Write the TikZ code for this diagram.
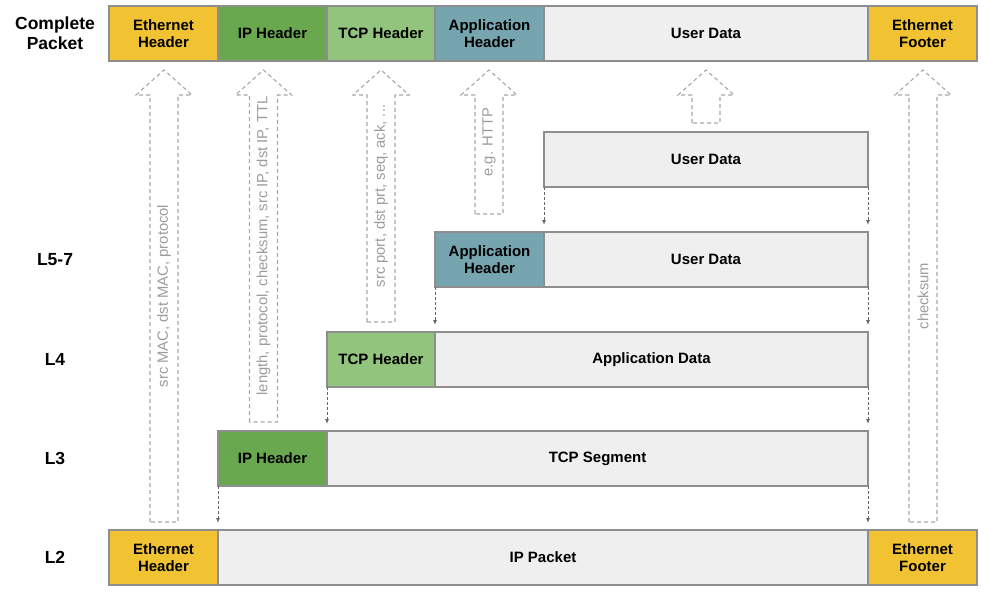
\documentclass[tikz,border=0pt]{standalone}
\usepackage{fontspec}
\setmainfont{Liberation Sans}
\usepackage{tikz}
\usetikzlibrary{arrows.meta,positioning,calc}

\definecolor{ethyellow}{HTML}{F1C232}
\definecolor{ipgreen}{HTML}{6AA84F}
\definecolor{tcpgreen}{HTML}{93C47D}
\definecolor{appblue}{HTML}{76A5AF}
\definecolor{datagrey}{HTML}{EFEFEF}
\definecolor{cellline}{HTML}{8E8E8E}
\definecolor{dashgrey}{HTML}{A8A8A8}
\definecolor{notegrey}{HTML}{9C9C9C}
\definecolor{tipgrey}{HTML}{666666}

% hollow dashed up arrow: centre x, bottom y, label
\newcommand{\upblock}[3]{%
  \draw[bigarrow] (#1-14,#2) -- (#1-14,95) -- (#1-28,95) -- (#1,70)
    -- (#1+28,95) -- (#1+14,95) -- (#1+14,#2) -- cycle;
  \node[notetext] at (#1,{(70+#2)/2}) {#3};
}

\begin{document}
\begin{tikzpicture}[x=1pt,y=-1pt,
  cell/.style={draw=cellline,line width=1.3pt,minimum height=55pt,inner sep=0pt,
    outer sep=0pt,align=center,font=\bfseries\fontsize{15}{17.5}\selectfont},
  lvl/.style={align=center,font=\bfseries\fontsize{17.5}{20}\selectfont},
  down/.style={draw=tipgrey,line width=1pt,dash pattern=on 3pt off 2pt,
    -{Latex[length=5pt,width=4pt]}},
  bigarrow/.style={draw=dashgrey,line width=1.1pt,dash pattern=on 4pt off 3pt},
  notetext/.style={rotate=90,text=notegrey,font=\fontsize{14.8}{17}\selectfont}]
\useasboundingbox (0,0) rectangle (1000,603);

% Complete packet
\node[lvl] (lpkt) at (55,33.5) {Complete\\Packet};
\node[cell,fill=ethyellow,minimum width=109pt,anchor=north west] (pEthH) at (109,6) {Ethernet\\Header};
\node[cell,fill=ipgreen,minimum width=109pt,right=0pt of pEthH] (pIPH) {IP Header};
\node[cell,fill=tcpgreen,minimum width=108pt,right=0pt of pIPH] (pTCPH) {TCP Header};
\node[cell,fill=appblue,minimum width=109pt,right=0pt of pTCPH] (pAppH) {Application\\Header};
\node[cell,fill=datagrey,minimum width=324pt,right=0pt of pAppH] (pUser) {User Data};
\node[cell,fill=ethyellow,minimum width=109pt,right=0pt of pUser] (pEthF) {Ethernet\\Footer};

% User data
\node[cell,fill=datagrey,minimum width=324pt,anchor=north west] (uData) at (544,132) {User Data};

% L5-7
\node[lvl] (l57) at (55,259.5) {L5-7};
\node[cell,fill=appblue,minimum width=109pt,anchor=north west] (aHdr) at (435,232) {Application\\Header};
\node[cell,fill=datagrey,minimum width=324pt,right=0pt of aHdr] (aData) {User Data};

% L4
\node[lvl] (l4) at (55,359.5) {L4};
\node[cell,fill=tcpgreen,minimum width=108pt,anchor=north west] (tHdr) at (327,332) {TCP Header};
\node[cell,fill=datagrey,minimum width=433pt,right=0pt of tHdr] (tData) {Application Data};

% L3
\node[lvl] (l3) at (55,458.5) {L3};
\node[cell,fill=ipgreen,minimum width=109pt,anchor=north west] (iHdr) at (218,431) {IP Header};
\node[cell,fill=datagrey,minimum width=541pt,right=0pt of iHdr] (iData) {TCP Segment};

% L2
\node[lvl] (l2) at (55,557.5) {L2};
\node[cell,fill=ethyellow,minimum width=109pt,anchor=north west] (eHdr) at (109,530) {Ethernet\\Header};
\node[cell,fill=datagrey,minimum width=650pt,right=0pt of eHdr] (eData) {IP Packet};
\node[cell,fill=ethyellow,minimum width=109pt,right=0pt of eData] (eFtr) {Ethernet\\Footer};

% Encapsulation
\draw[down] (uData.south west) -- ([yshift=7pt]aHdr.north east);
\draw[down] (uData.south east) -- ([yshift=7pt]aData.north east);
\draw[down] (aHdr.south west) -- ([yshift=7pt]tHdr.north east);
\draw[down] (aData.south east) -- ([yshift=7pt]tData.north east);
\draw[down] (tHdr.south west) -- ([yshift=7pt]iHdr.north east);
\draw[down] (tData.south east) -- ([yshift=7pt]iData.north east);
\draw[down] (iHdr.south west) -- ([yshift=7pt]eHdr.north east);
\draw[down] (iData.south east) -- ([yshift=7pt]eData.north east);

% Header fields
\upblock{164}{522}{src MAC, dst MAC, protocol}
\upblock{263.5}{422}{length, protocol, checksum, src IP, dst IP, TTL}
\upblock{381}{322}{src port, dst prt, seq, ack, ...}
\upblock{489}{214}{e.g. HTTP}
\upblock{706}{123}{}
\upblock{923}{522}{checksum}
\end{tikzpicture}
\end{document}
